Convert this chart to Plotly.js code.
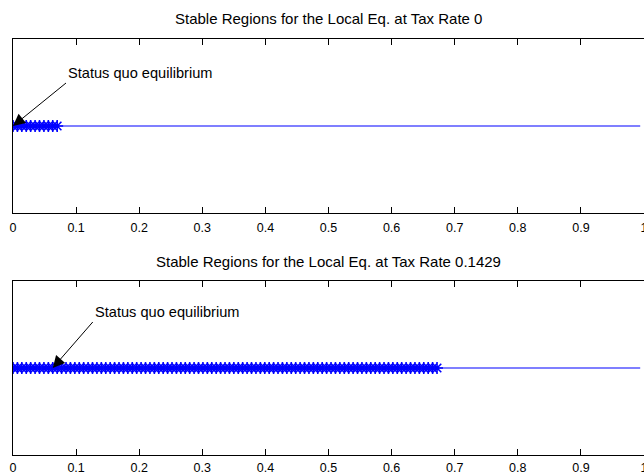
<!DOCTYPE html>
<html>
<head>
<meta charset="utf-8">
<script src="https://cdn.plot.ly/plotly-3.0.1.min.js"></script>
<style>html,body{margin:0;padding:0;background:#fff;}#chart{width:644px;height:476px;}</style>
</head>
<body>
<div id="chart"></div>
<script>
// ---- data ----
const gridStep = 0.007;          // parameter grid spacing
const lineEnd = 0.994;           // last grid point of the curve
const stableEndTop = 0.07;       // end of stable region, tax rate 0
const stableEndBottom = 0.672;   // end of stable region, tax rate 0.1429
const eqLevel = 0;               // y level of the equilibria
const titles = ["Stable Regions for the Local Eq. at Tax Rate 0",
                "Stable Regions for the Local Eq. at Tax Rate 0.1429"];
const annotText = "Status quo equilibrium";
const arrowX = [0, 0.063];       // arrow tip x (data)
const tickVals = [0, 0.1, 0.2, 0.3, 0.4, 0.5, 0.6, 0.7, 0.8, 0.9, 1];
const tickText = ["0", "0.1", "0.2", "0.3", "0.4", "0.5", "0.6", "0.7", "0.8", "0.9", "1"];

function grid(a, b) {
  const out = [];
  const n = Math.round((b - a) / gridStep);
  for (let i = 0; i <= n; i++) out.push(+(a + i * gridStep).toFixed(4));
  return out;
}
const lineX = grid(0, lineEnd);
const starsTop = grid(0, stableEndTop);
const starsBot = grid(0, stableEndBottom);

const blue = "rgb(0,0,255)";
const FONT = "Liberation Sans, Arial, sans-serif";

const star = {symbol: "asterisk-open", size: 10, color: blue, line: {color: blue, width: 1.6}};
const traces = [
  {x: lineX, y: lineX.map(() => eqLevel), xaxis: "x", yaxis: "y", mode: "lines",
   line: {color: blue, width: 1.2}, hoverinfo: "skip"},
  {x: starsTop, y: starsTop.map(() => eqLevel), xaxis: "x", yaxis: "y", mode: "markers", marker: star},
  {x: lineX, y: lineX.map(() => eqLevel), xaxis: "x2", yaxis: "y2", mode: "lines",
   line: {color: blue, width: 1.2}, hoverinfo: "skip"},
  {x: starsBot, y: starsBot.map(() => eqLevel), xaxis: "x2", yaxis: "y2", mode: "markers", marker: star}
];

function xax(anchor, standoff) {
  return {anchor: anchor, range: [0, 1], tickvals: tickVals, ticktext: tickText,
          ticks: "inside", ticklen: 6, tickwidth: 1, tickcolor: "#000",
          ticklabelstandoff: standoff, ticklabeloverflow: "allow",
          showline: true, linecolor: "#000", linewidth: 1, mirror: "ticks",
          showgrid: false, zeroline: false, fixedrange: true,
          tickfont: {family: FONT, size: 12.5, color: "#000"}};
}
function yax(anchor, domain) {
  return {anchor: anchor, domain: domain, range: [-1, 1], showticklabels: false,
          ticks: "", showline: true, linecolor: "#000", linewidth: 1, mirror: false,
          showgrid: false, zeroline: false, fixedrange: true};
}

const layout = {
  width: 644, height: 476,
  margin: {l: 13, r: 0, t: 0, b: 0},
  paper_bgcolor: "#fff", plot_bgcolor: "#fff",
  showlegend: false,
  xaxis: xax("y", 3),
  yaxis: yax("x", [1 - 213 / 476, 1 - 39 / 476]),
  xaxis2: xax("y2", 1),
  yaxis2: yax("x2", [1 - 455 / 476, 1 - 281 / 476]),
  annotations: [
    {text: titles[0], xref: "paper", yref: "paper", x: 0.5, y: 1 - 19 / 476,
     xanchor: "center", yanchor: "middle", showarrow: false,
     font: {family: FONT, size: 15, color: "#000"}},
    {text: titles[1], xref: "paper", yref: "paper", x: 0.5, y: 1 - 261 / 476,
     xanchor: "center", yanchor: "middle", showarrow: false,
     font: {family: FONT, size: 15, color: "#000"}},
    {text: annotText, xref: "x", yref: "y", x: arrowX[0], y: eqLevel,
     ax: 53, ay: -43, xanchor: "left", yanchor: "bottom",
     showarrow: true, arrowhead: 2, arrowsize: 2.4, arrowwidth: 1, arrowcolor: "#000",
     font: {family: FONT, size: 14.6, color: "#000"}},
    {text: annotText, xref: "x2", yref: "y2", x: arrowX[1], y: eqLevel,
     ax: 40, ay: -46, xanchor: "left", yanchor: "bottom",
     showarrow: true, arrowhead: 2, arrowsize: 2.4, arrowwidth: 1, arrowcolor: "#000",
     font: {family: FONT, size: 14.6, color: "#000"}}
  ]
};

Plotly.newPlot("chart", traces, layout, {displayModeBar: false, staticPlot: true});
</script>
</body>
</html>
